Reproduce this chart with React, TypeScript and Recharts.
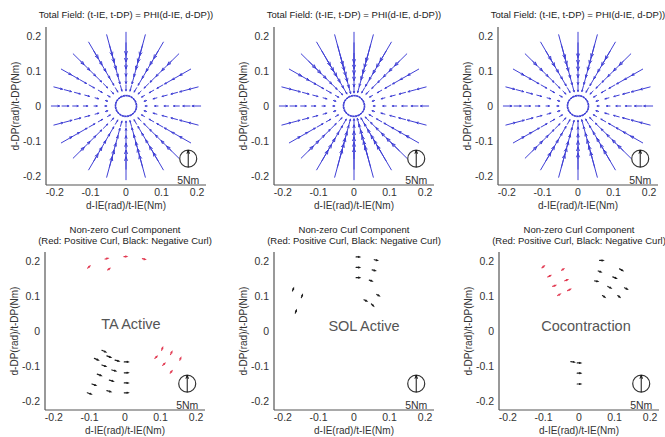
import React from 'react';
import { ScatterChart, Scatter, XAxis, YAxis, Label } from 'recharts';

const TICKS = [-0.2, -0.1, 0, 0.1, 0.2];
const LIMIT = 0.225;

// polar sampling grid of the total field
const SPOKE_ANGLES = [0, 15, 30, 45, 60, 75, 90, 105, 120, 135, 150, 165, 180, 195, 210, 225, 240, 255, 270, 285, 300, 315, 330, 345];
const RING_RADII = [0.06, 0.09, 0.12, 0.15, 0.18, 0.21];
const RING_SHARE = [0.26, 0.4, 0.54, 0.68, 0.84, 1];
const INNER_RING_RADIUS = 0.029;
const INNER_RING_LEN = 0.008;

// outer-ring arrow length for each spoke
const TA_SPOKE_LEN = [0.024, 0.028, 0.036, 0.045, 0.054, 0.062, 0.065, 0.062, 0.054, 0.043, 0.032, 0.025, 0.023, 0.027, 0.035, 0.044, 0.053, 0.06, 0.065, 0.065, 0.057, 0.048, 0.037, 0.028];
const SOL_SPOKE_LEN = [0.023, 0.027, 0.036, 0.048, 0.064, 0.08, 0.088, 0.09, 0.078, 0.058, 0.04, 0.028, 0.023, 0.027, 0.036, 0.048, 0.064, 0.082, 0.09, 0.092, 0.08, 0.06, 0.042, 0.029];
const COCON_SPOKE_LEN = [0.025, 0.029, 0.036, 0.046, 0.057, 0.067, 0.072, 0.07, 0.059, 0.046, 0.034, 0.026, 0.024, 0.028, 0.036, 0.046, 0.057, 0.067, 0.075, 0.075, 0.065, 0.052, 0.039, 0.03];

// curl vectors: [x, y, u, v]
const TA_POS_CURL = [
  [-0.105, 0.179, 0.006, 0.006], [-0.056, 0.205, 0.008, 0.002], [-0.049, 0.174, 0.006, 0.004],
  [-0.003, 0.212, 0.008, 0], [0.049, 0.206, 0.008, -0.002],
  [0.103, -0.055, 0.003, 0.008], [0.084, -0.078, 0.006, 0.006], [0.128, -0.067, 0.004, 0.008],
  [0.106, -0.098, 0.006, 0.006], [0.154, -0.083, 0.003, 0.007], [0.127, -0.12, 0.005, 0.006],
];
const TA_NEG_CURL = [
  [-0.065, -0.055, 0.011, -0.005], [-0.086, -0.078, 0.011, -0.005], [-0.051, -0.071, 0.011, -0.004],
  [-0.028, -0.083, 0.011, -0.003], [-0.002, -0.088, 0.011, 0], [-0.065, -0.097, 0.011, -0.004],
  [-0.037, -0.111, 0.011, -0.003], [-0.002, -0.119, 0.011, 0], [-0.078, -0.123, 0.011, -0.004],
  [-0.044, -0.14, 0.011, -0.003], [-0.002, -0.148, 0.011, 0], [-0.093, -0.151, 0.011, -0.004],
  [-0.051, -0.17, 0.011, -0.003], [-0.002, -0.176, 0.011, 0], [-0.106, -0.176, 0.011, -0.004],
];
const SOL_POS_CURL: number[][] = [];
const SOL_NEG_CURL = [
  [-0.173, 0.114, 0.003, 0.008], [-0.148, 0.095, 0.003, 0.008], [-0.165, 0.051, 0.003, 0.008],
  [0.006, 0.211, 0.01, 0], [0.006, 0.181, 0.01, 0], [0.006, 0.152, 0.01, 0],
  [0.057, 0.203, 0.009, -0.002], [0.051, 0.174, 0.009, -0.002], [0.043, 0.145, 0.008, -0.003],
  [0.064, 0.104, 0.007, -0.004], [0.028, 0.089, 0.008, -0.004], [0.049, 0.077, 0.006, -0.006],
];
const COCON_POS_CURL = [
  [-0.104, 0.18, 0.006, 0.005], [-0.088, 0.154, 0.008, 0.004], [-0.074, 0.127, 0.008, 0.003],
  [-0.06, 0.101, 0.007, 0.004], [-0.049, 0.173, 0.006, 0.004], [-0.04, 0.143, 0.008, 0.003],
  [-0.032, 0.115, 0.008, 0.004],
];
const COCON_NEG_CURL = [
  [0.058, 0.201, 0.01, 0], [0.054, 0.171, 0.008, -0.003], [0.044, 0.143, 0.009, -0.002],
  [0.095, 0.154, 0.01, -0.004], [0.081, 0.127, 0.009, -0.005], [0.066, 0.101, 0.007, -0.005],
  [0.114, 0.177, 0.009, -0.005], [0.128, 0.123, 0.008, -0.004], [0.109, 0.101, 0.006, -0.005],
  [-0.023, -0.087, 0.01, -0.002], [-0.005, -0.091, 0.01, 0], [-0.005, -0.12, 0.01, 0], [-0.005, -0.151, 0.01, 0],
];

const SCALE_MARK = [{ x: 0.175, y: -0.15 }];

const FIELD_TITLE = 'Total Field: (t-IE, t-DP) = PHI(d-IE, d-DP))';
const CURL_TITLE = ['Non-zero Curl Component', '(Red: Positive Curl, Black: Negative Curl)'];
const X_LABEL = 'd-IE(rad)/t-IE(Nm)';
const Y_LABEL = 'd-DP(rad)/t-DP(Nm)';

const FONT = '"Liberation Sans", Arial, sans-serif';
const PLOT_W = 160;
const PLOT_H = 158;
const Y_AXIS_W = 46;
const X_AXIS_H = 30;
const PAD_TOP = 4;
const PX_X = PLOT_W / (2 * LIMIT);
const PX_Y = PLOT_H / (2 * LIMIT);

const BLUE = '#4040d6';
const RED = '#e23a52';
const BLACK = '#1e1e1e';

type Vec = { x: number; y: number; u: number; v: number };

function buildField(spokeLen: number[]): Vec[] {
  const out: Vec[] = [];
  SPOKE_ANGLES.forEach((deg, i) => {
    const a = (deg * Math.PI) / 180;
    const c = Math.cos(a);
    const s = Math.sin(a);
    out.push({ x: INNER_RING_RADIUS * c, y: INNER_RING_RADIUS * s, u: -s * INNER_RING_LEN, v: c * INNER_RING_LEN });
    RING_RADII.forEach((r, j) => {
      const len = spokeLen[i] * RING_SHARE[j];
      out.push({ x: r * c, y: r * s, u: -len * c, v: -len * s });
    });
  });
  return out;
}

const toVecs = (rows: number[][]): Vec[] => rows.map(([x, y, u, v]) => ({ x, y, u, v }));

function arrowShape(color: string, width: number, head: number) {
  return (props: any) => {
    const { cx, cy, payload } = props;
    if (cx == null || cy == null) return <g />;
    const dx = payload.u * PX_X;
    const dy = -payload.v * PX_Y;
    const L = Math.hypot(dx, dy) || 0.001;
    const ex = cx + dx;
    const ey = cy + dy;
    const ux = dx / L;
    const uy = dy / L;
    const h = Math.min(Math.max(L * head, 1.2), 3.5);
    const w = h * 0.4;
    const p1 = `${ex - ux * h - uy * w},${ey - uy * h + ux * w}`;
    const p2 = `${ex - ux * h + uy * w},${ey - uy * h - ux * w}`;
    return (
      <path
        d={`M${cx},${cy}L${ex},${ey}M${p1}L${ex},${ey}L${p2}`}
        stroke={color}
        strokeWidth={width}
        fill="none"
        strokeLinecap="round"
      />
    );
  };
}

const scaleShape = (props: any) => {
  const { cx, cy } = props;
  if (cx == null || cy == null) return <g />;
  const r = 8.5;
  return (
    <g>
      <circle cx={cx} cy={cy} r={r} fill="none" stroke="#333" strokeWidth={1.2} />
      <path d={`M${cx},${cy + r}L${cx},${cy - r}M${cx - 1.3},${cy - r + 3.5}L${cx},${cy - r}L${cx + 1.3},${cy - r + 3.5}`} stroke="#111" strokeWidth={1} fill="none" />
      <text x={cx} y={cy + 21} textAnchor="middle" dominantBaseline="central" fontSize={10.5} fill="#333" fontFamily={FONT}>
        5Nm
      </text>
    </g>
  );
};

type PanelProps = {
  left: number;
  top: number;
  series: { data: Vec[]; color: string; width: number; head: number }[];
};

function Panel({ left, top, series }: PanelProps) {
  return (
    <div style={{ position: 'absolute', left: left - Y_AXIS_W, top: top - PAD_TOP }}>
      <ScatterChart
        width={Y_AXIS_W + PLOT_W + 8}
        height={PAD_TOP + PLOT_H + X_AXIS_H}
        margin={{ top: PAD_TOP, right: 8, bottom: 0, left: 0 }}
      >
        <XAxis
          type="number"
          dataKey="x"
          domain={[-LIMIT, LIMIT]}
          ticks={TICKS}
          allowDataOverflow
          height={X_AXIS_H}
          tickSize={0}
          tickMargin={4}
          tickLine={false}
          axisLine={{ stroke: '#555', strokeWidth: 1.2 }}
          tick={{ fontSize: 10.5, fill: '#333', fontFamily: FONT }}
        >
          <Label
            content={(p: any) => {
              const vb = p.viewBox;
              return (
                <text x={vb.x + vb.width / 2} y={vb.y + 20.5} textAnchor="middle" dominantBaseline="central" fontSize={10} fill="#333" fontFamily={FONT}>
                  {X_LABEL}
                </text>
              );
            }}
          />
        </XAxis>
        <YAxis
          type="number"
          dataKey="y"
          domain={[-LIMIT, LIMIT]}
          ticks={TICKS}
          allowDataOverflow
          width={Y_AXIS_W}
          tickSize={0}
          tickMargin={5}
          tickLine={false}
          axisLine={{ stroke: '#555', strokeWidth: 1.2 }}
          tick={{ fontSize: 10.5, fill: '#333', fontFamily: FONT }}
        >
          <Label
            content={(p: any) => {
              const vb = p.viewBox;
              const x = vb.x + 15;
              const y = vb.y + vb.height / 2;
              return (
                <text x={x} y={y} transform={`rotate(-90, ${x}, ${y})`} textAnchor="middle" dominantBaseline="central" fontSize={10} fill="#333" fontFamily={FONT}>
                  {Y_LABEL}
                </text>
              );
            }}
          />
        </YAxis>
        {series.map((s, i) => (
          <Scatter key={i} data={s.data} isAnimationActive={false} shape={arrowShape(s.color, s.width, s.head)} />
        ))}
        <Scatter data={SCALE_MARK} isAnimationActive={false} shape={scaleShape} />
      </ScatterChart>
    </div>
  );
}

const textStyle: React.CSSProperties = {
  position: 'absolute',
  fontFamily: FONT,
  color: '#222',
  whiteSpace: 'nowrap',
  transform: 'translate(-50%, -50%)',
};

const TOP_ROW = [
  { left: 46, top: 27, field: TA_SPOKE_LEN },
  { left: 274, top: 27, field: SOL_SPOKE_LEN },
  { left: 498, top: 27, field: COCON_SPOKE_LEN },
];

const BOTTOM_ROW = [
  { left: 45, top: 252, pos: TA_POS_CURL, neg: TA_NEG_CURL, name: 'TA Active', nx: 131, ny: 324 },
  { left: 274, top: 252, pos: SOL_POS_CURL, neg: SOL_NEG_CURL, name: 'SOL Active', nx: 364, ny: 326 },
  { left: 499, top: 252, pos: COCON_POS_CURL, neg: COCON_NEG_CURL, name: 'Cocontraction', nx: 586, ny: 326 },
];

export default function App() {
  return (
    <div style={{ position: 'absolute', left: 0, top: 0, width: 665, height: 437, overflow: 'hidden', background: '#fff' }}>
      {TOP_ROW.map((p, i) => (
        <React.Fragment key={`t${i}`}>
          <Panel left={p.left} top={p.top} series={[{ data: buildField(p.field), color: BLUE, width: 1, head: 0.2 }]} />
          <div style={{ ...textStyle, left: p.left + PLOT_W / 2, top: 14, fontSize: 9.5 }}>{FIELD_TITLE}</div>
        </React.Fragment>
      ))}
      {BOTTOM_ROW.map((p, i) => (
        <React.Fragment key={`b${i}`}>
          <Panel
            left={p.left}
            top={p.top}
            series={[
              { data: toVecs(p.pos), color: RED, width: 1.2, head: 0.3 },
              { data: toVecs(p.neg), color: BLACK, width: 1.2, head: 0.3 },
            ]}
          />
          <div style={{ ...textStyle, left: p.left + PLOT_W / 2, top: 229, fontSize: 9.5 }}>{CURL_TITLE[0]}</div>
          <div style={{ ...textStyle, left: p.left + PLOT_W / 2, top: 240, fontSize: 9.5 }}>{CURL_TITLE[1]}</div>
          <div style={{ ...textStyle, left: p.nx, top: p.ny, fontSize: 14.5, color: '#555' }}>{p.name}</div>
        </React.Fragment>
      ))}
    </div>
  );
}
